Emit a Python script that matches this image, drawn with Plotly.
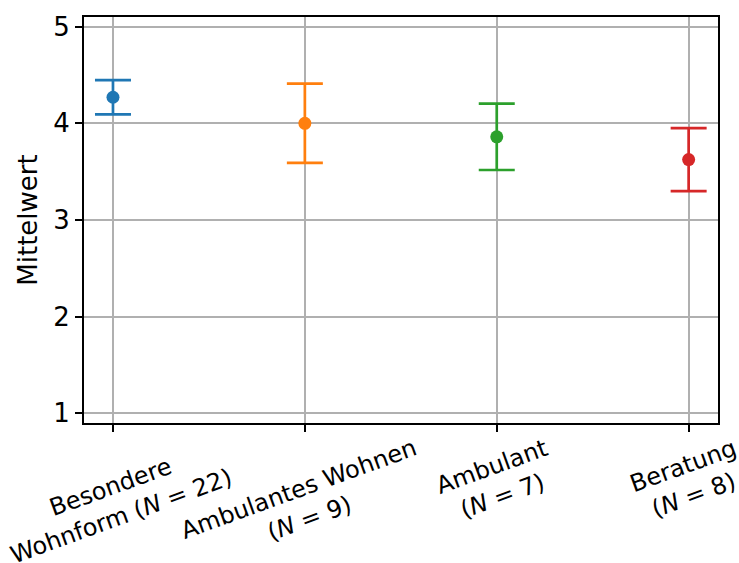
import plotly.graph_objects as go

# Group labels, means and half-widths of the error bars
groups = [
    "Besondere<br>Wohnform (<i>N</i> = 22)",
    "Ambulantes Wohnen<br>(<i>N</i> = 9)",
    "Ambulant<br>(<i>N</i> = 7)",
    "Beratung<br>(<i>N</i> = 8)",
]
means = [4.27, 4.00, 3.86, 3.625]
errors = [0.177, 0.41, 0.343, 0.326]
colors = ["#1f77b4", "#ff7f0e", "#2ca02c", "#d62728"]

y_ticks = [1, 2, 3, 4, 5]

font_family = "DejaVu Sans"
fs_axis = 26
fs_cat = 24

fig = go.Figure()
for i, (g, m, e, c) in enumerate(zip(groups, means, errors, colors)):
    fig.add_trace(go.Scatter(
        x=[i], y=[m],
        mode="markers",
        marker=dict(color=c, size=13),
        error_y=dict(type="data", array=[e], visible=True,
                     color=c, thickness=2.7, width=18),
        showlegend=False,
        hoverinfo="skip",
    ))

# Rotated category labels centred under each tick
for i, g in enumerate(groups):
    fig.add_annotation(
        x=i, y=0, xref="x", yref="paper",
        text=g, showarrow=False,
        textangle=-20, xanchor="center", yanchor="top",
        yshift=-8, xshift=3 if i == 0 else 0, align="center",
        font=dict(family=font_family, size=fs_cat, color="black"),
    )

fig.update_layout(
    width=739, height=563,
    margin=dict(l=84, r=21, t=15, b=140),
    paper_bgcolor="white", plot_bgcolor="white",
    font=dict(family=font_family, size=fs_axis, color="black"),
)
fig.update_xaxes(
    range=[-0.151, 3.153],
    tickvals=list(range(len(groups))), ticktext=[""] * len(groups),
    showgrid=True, gridcolor="#b0b0b0", gridwidth=1.6,
    showline=True, linecolor="black", linewidth=2, mirror=True,
    ticks="outside", ticklen=7, tickwidth=1.6, tickcolor="black",
    zeroline=False,
)
fig.update_yaxes(
    range=[0.9, 5.1],
    tickvals=y_ticks,
    tickfont=dict(family=font_family, size=fs_axis),
    showgrid=True, gridcolor="#b0b0b0", gridwidth=1.6,
    showline=True, linecolor="black", linewidth=2, mirror=True,
    ticks="outside", ticklen=7, tickwidth=1.6, tickcolor="black",
    zeroline=False,
    title=dict(text="Mittelwert", font=dict(family=font_family, size=fs_axis), standoff=8),
)

fig.write_html("out.html")
